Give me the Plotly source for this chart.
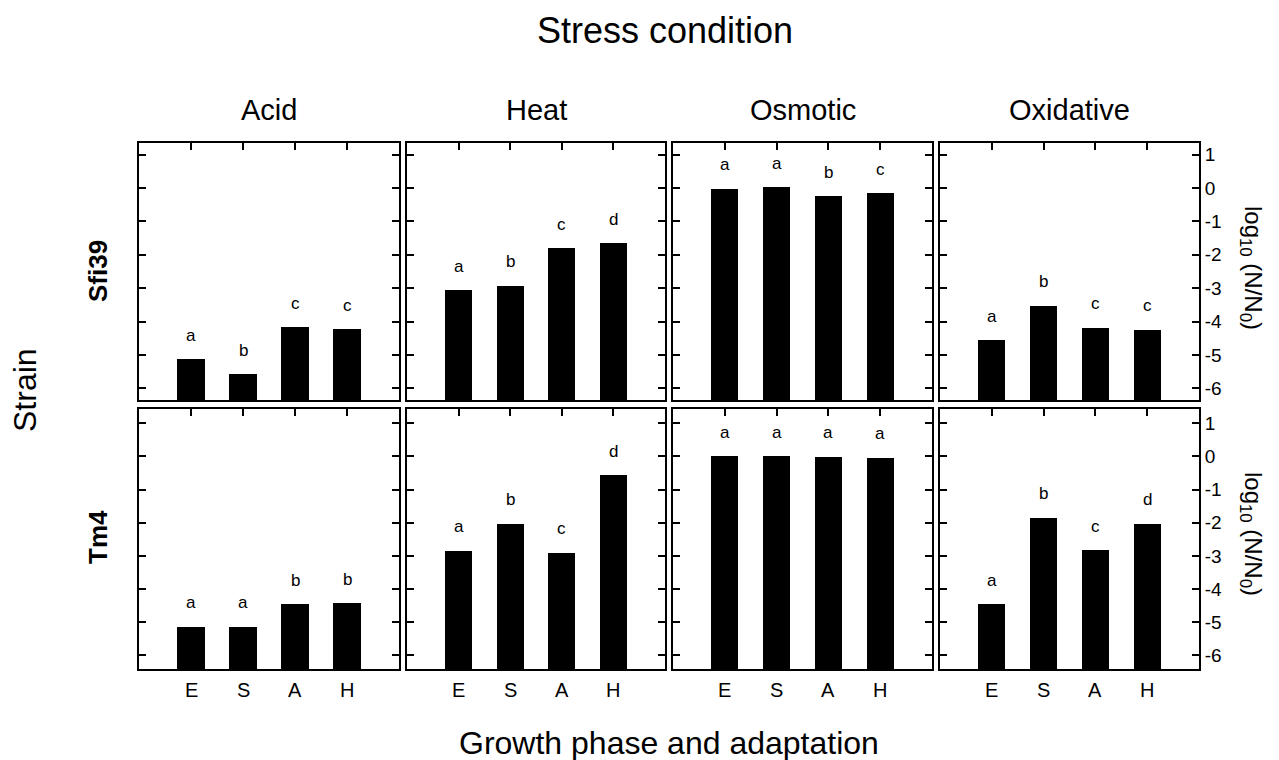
import plotly.graph_objects as go

stresses = ["Acid", "Heat", "Osmotic", "Oxidative"]
strains = ["Sfi39", "Tm4"]
phases = ["E", "S", "A", "H"]
phase_pos = [1, 2, 3, 4]

values = {
    ("Sfi39", "Acid"): [-5.13, -5.58, -4.17, -4.23],
    ("Sfi39", "Heat"): [-3.06, -2.92, -1.80, -1.65],
    ("Sfi39", "Osmotic"): [-0.02, 0.02, -0.25, -0.15],
    ("Sfi39", "Oxidative"): [-4.56, -3.52, -4.18, -4.25],
    ("Tm4", "Acid"): [-5.14, -5.14, -4.46, -4.42],
    ("Tm4", "Heat"): [-2.85, -2.03, -2.90, -0.57],
    ("Tm4", "Osmotic"): [0.01, 0.01, -0.01, -0.04],
    ("Tm4", "Oxidative"): [-4.46, -1.85, -2.83, -2.03],
}
letters = {
    ("Sfi39", "Acid"): ["a", "b", "c", "c"],
    ("Sfi39", "Heat"): ["a", "b", "c", "d"],
    ("Sfi39", "Osmotic"): ["a", "a", "b", "c"],
    ("Sfi39", "Oxidative"): ["a", "b", "c", "c"],
    ("Tm4", "Acid"): ["a", "a", "b", "b"],
    ("Tm4", "Heat"): ["a", "b", "c", "d"],
    ("Tm4", "Osmotic"): ["a", "a", "a", "a"],
    ("Tm4", "Oxidative"): ["a", "b", "c", "d"],
}
ytick_vals = [1, 0, -1, -2, -3, -4, -5, -6]
ytick_text = ["1", "0", "-1", "-2", "-3", "-4", "-5", "-6"]

W, H = 1279, 760
FONT = "Liberation Sans, Arial, sans-serif"

# panel pixel boxes
col_px = [(139, 399), (407, 665), (673, 932), (940, 1199)]
row_px = [(143, 400), (409, 669)]
row_range = [(-6.35, 1.35), (-6.41, 1.43)]
row_label_y = [271, 537]


def ann(x, y, text, size, angle=0, bold=False):
    return dict(x=x / W, y=1 - y / H, xref="paper", yref="paper",
                xanchor="center", yanchor="middle", text=text, textangle=angle,
                showarrow=False, font=dict(family=FONT, size=size, color="black"))


fig = go.Figure()
layout = {}
annotations = []

k = 0
for r, strain in enumerate(strains):
    for c, stress in enumerate(stresses):
        k += 1
        xa = "x" if k == 1 else f"x{k}"
        ya = "y" if k == 1 else f"y{k}"
        xkey = "xaxis" if k == 1 else f"xaxis{k}"
        ykey = "yaxis" if k == 1 else f"yaxis{k}"
        ymin, ymax = row_range[r]
        vals = values[(strain, stress)]
        fig.add_trace(go.Bar(
            x=phase_pos, y=[v - ymin for v in vals], base=ymin,
            width=0.52, marker=dict(color="black", line=dict(width=0)),
            xaxis=xa, yaxis=ya, showlegend=False, hoverinfo="skip"))
        x0, x1 = col_px[c]
        y0, y1 = row_px[r]
        layout[xkey] = dict(
            domain=[x0 / W, x1 / W], anchor=ya, range=[0, 5],
            side="top", ticks="inside", ticklen=7, tickwidth=2, tickcolor="black",
            tickvals=phase_pos, showticklabels=False,
            showline=True, linecolor="black", linewidth=2, mirror=True,
            showgrid=False, zeroline=False, fixedrange=True)
        last = (c == len(stresses) - 1)
        layout[ykey] = dict(
            domain=[1 - y1 / H, 1 - y0 / H], anchor=xa, range=[ymin, ymax],
            side="right" if last else "left",
            ticks="inside", ticklen=7, tickwidth=2, tickcolor="black",
            tickvals=ytick_vals, ticktext=ytick_text,
            showticklabels=last, tickfont=dict(family=FONT, size=19, color="black"),
            showline=True, linecolor="black", linewidth=2, mirror="ticks",
            showgrid=False, zeroline=False, fixedrange=True)
        for p, v, t in zip(phase_pos, vals, letters[(strain, stress)]):
            annotations.append(dict(
                x=p, y=v, xref=xa, yref=ya, text=t, showarrow=False,
                xanchor="center", yanchor="middle",
                yshift=24, font=dict(family=FONT, size=17, color="black")))
        if r == 0:
            annotations.append(ann((x0 + x1) / 2, 110, stress, 29))
        if r == len(strains) - 1:
            for p, lab in zip(phase_pos, phases):
                annotations.append(dict(
                    x=p, y=1 - 690 / H, xref=xa, yref="paper", text=lab,
                    xanchor="center", yanchor="middle", showarrow=False,
                    font=dict(family=FONT, size=20, color="black")))
    annotations.append(ann(98, row_label_y[r], f"<b>{strain}</b>", 26, angle=-90))
    annotations.append(ann(1252, row_label_y[r] - 3,
                           "log<sub>10</sub> (N/N<sub>0</sub>)", 24, angle=90))

annotations.append(ann(665, 30, "Stress condition", 36))
annotations.append(ann(669, 743, "Growth phase and adaptation", 32))
annotations.append(ann(25, 390, "Strain", 32, angle=-90))

fig.update_layout(
    width=W, height=H, margin=dict(l=0, r=0, t=0, b=0),
    paper_bgcolor="white", plot_bgcolor="white",
    annotations=annotations, bargap=0, **layout)

fig.write_html("out.html", config={"displayModeBar": False})
